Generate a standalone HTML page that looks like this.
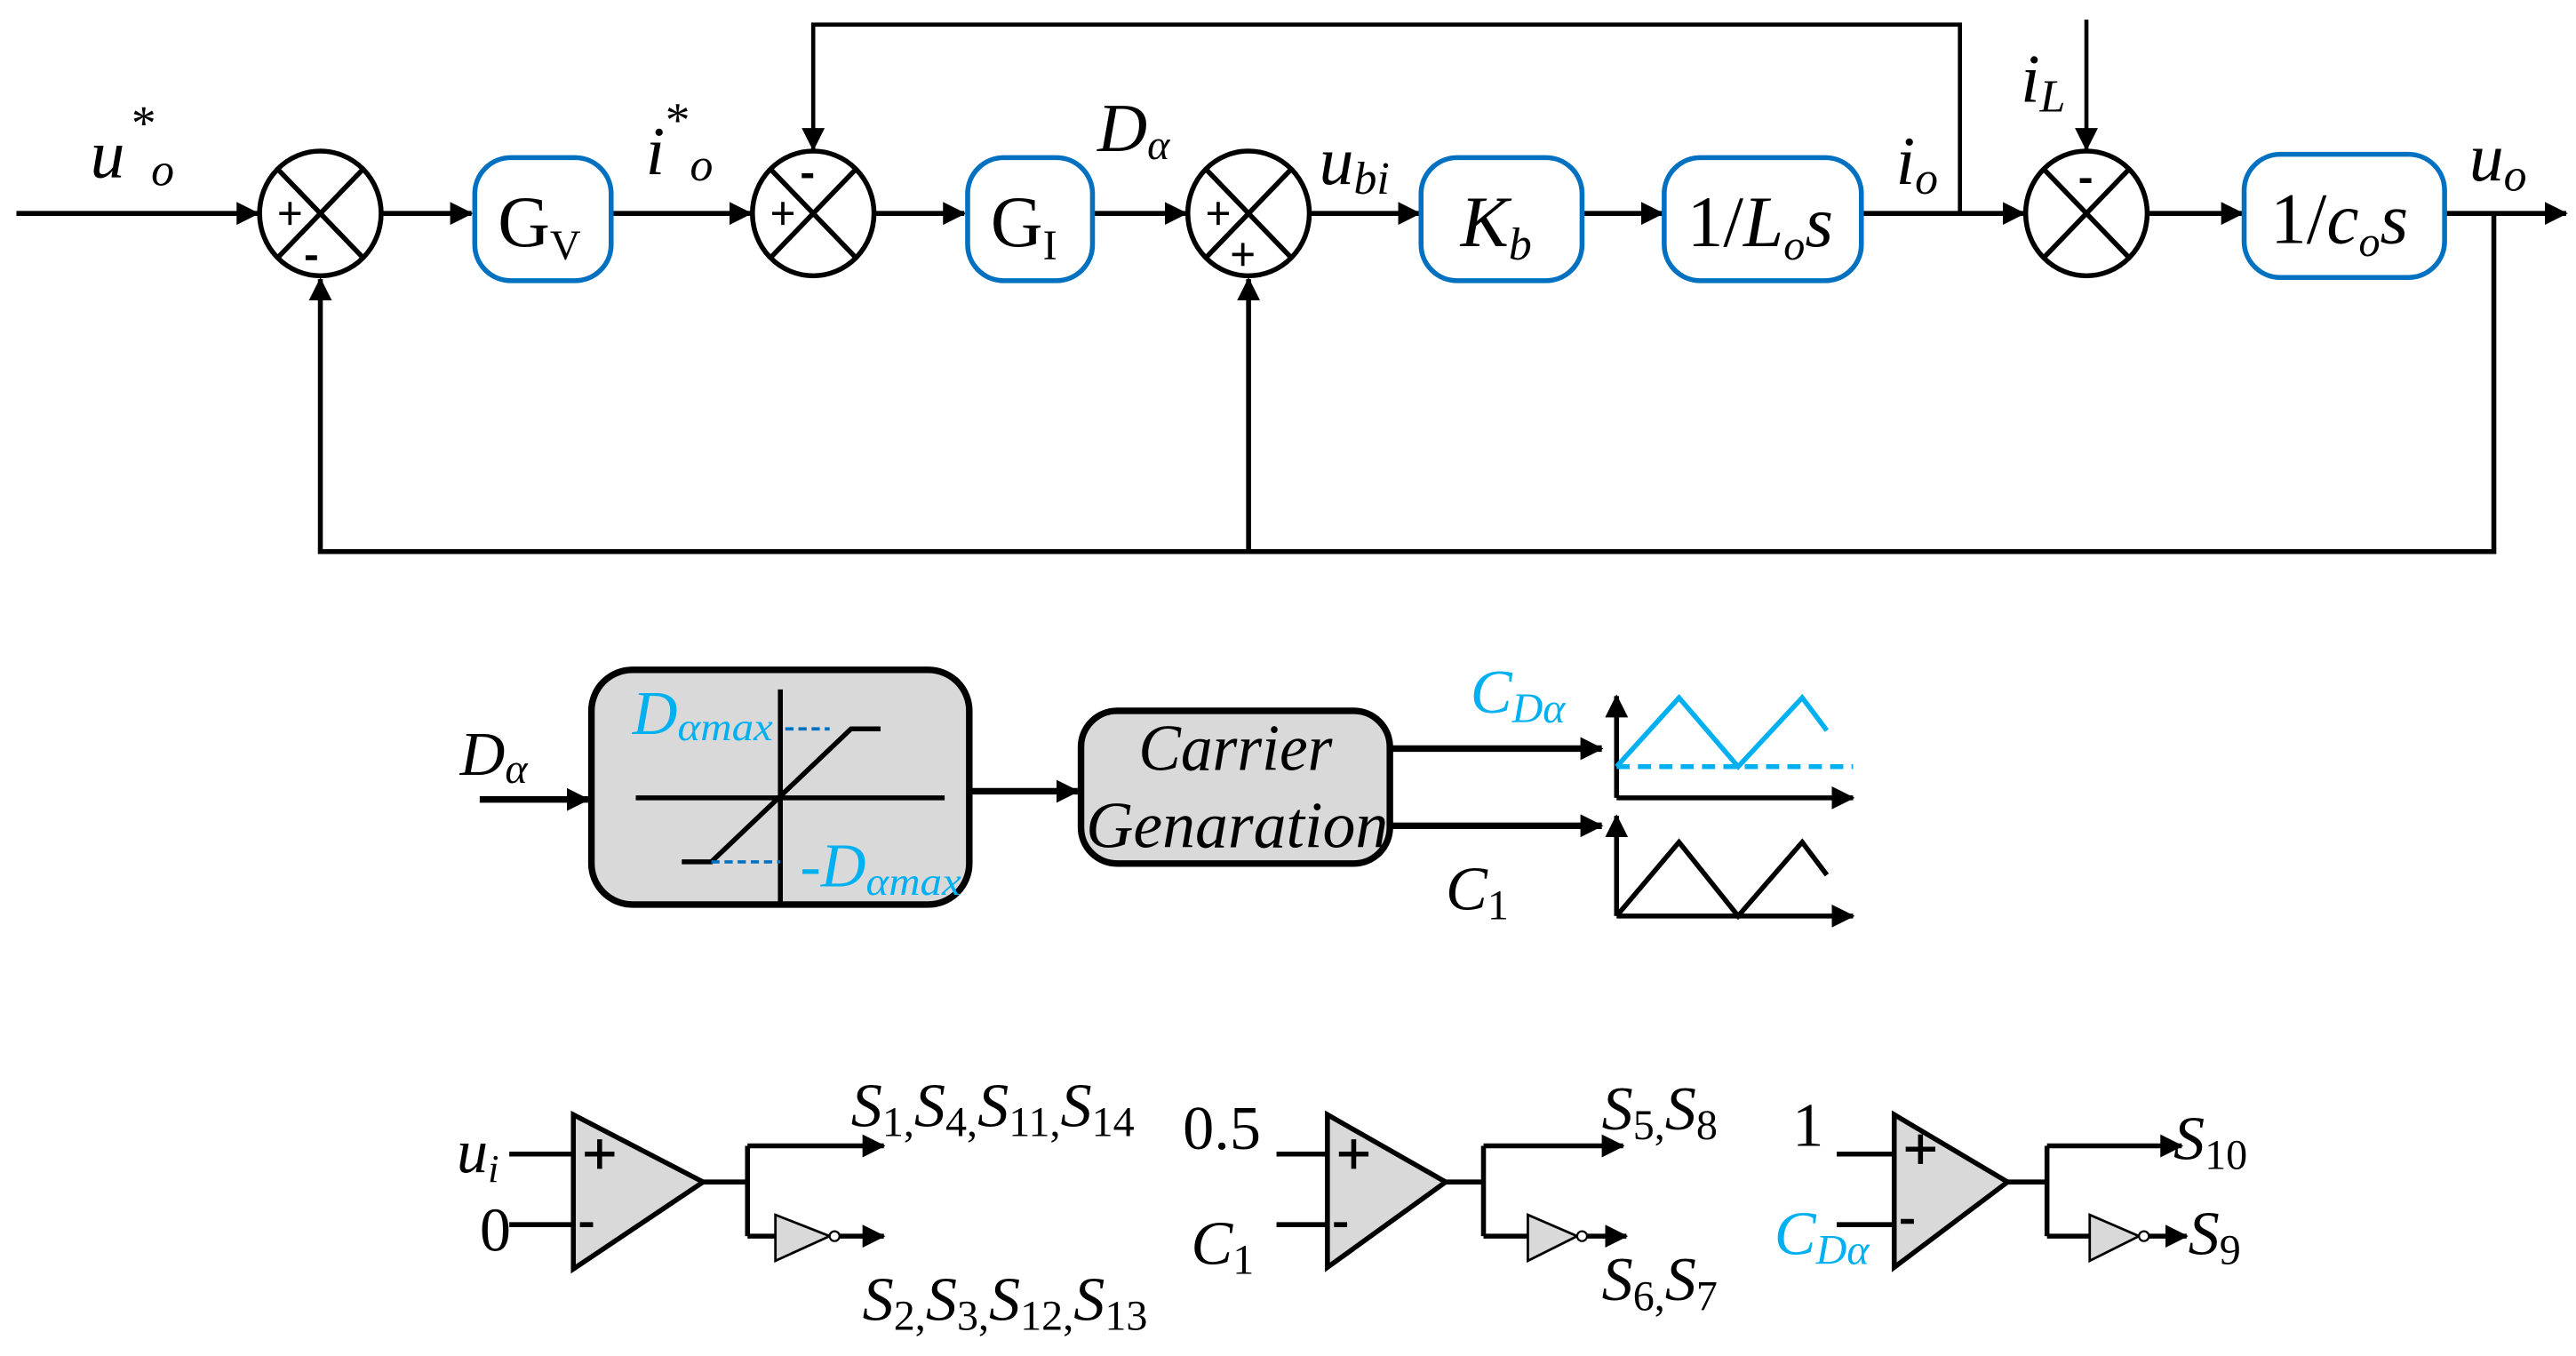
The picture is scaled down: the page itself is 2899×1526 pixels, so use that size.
<!DOCTYPE html>
<html><head><meta charset="utf-8"><style>
html,body{margin:0;padding:0;background:#fff;}
svg{display:block;}
svg text{font-family:"Liberation Serif","Times New Roman",serif;}
</style></head><body>
<svg width="2899" height="1526" viewBox="0 0 1568 826" preserveAspectRatio="none" xmlns="http://www.w3.org/2000/svg">
<defs>
<marker id="b" markerWidth="14" markerHeight="14" refX="13" refY="7" orient="auto" markerUnits="userSpaceOnUse"><path d="M0,0 L14,7 L0,14 Z" fill="#000"/></marker>
</defs>
<g stroke="#000" stroke-width="3" fill="none">
<line x1="10" y1="130" x2="157" y2="130" marker-end="url(#b)"/>
<line x1="232" y1="130" x2="287" y2="130" marker-end="url(#b)"/>
<line x1="372" y1="130" x2="457" y2="130" marker-end="url(#b)"/>
<line x1="532" y1="130" x2="587" y2="130" marker-end="url(#b)"/>
<line x1="665" y1="130" x2="722" y2="130" marker-end="url(#b)"/>
<line x1="797" y1="130" x2="864" y2="130" marker-end="url(#b)"/>
<line x1="963" y1="130" x2="1012" y2="130" marker-end="url(#b)"/>
<line x1="1133" y1="130" x2="1232" y2="130" marker-end="url(#b)"/>
<line x1="1307" y1="130" x2="1365" y2="130" marker-end="url(#b)"/>
<line x1="1488" y1="130" x2="1562" y2="130" marker-end="url(#b)"/>
<polyline points="1193,130 1193,15 495,15 495,91" stroke-width="2.5" marker-end="url(#b)"/>
<line x1="1270" y1="12" x2="1270" y2="91" stroke-width="2.5" marker-end="url(#b)"/>
<polyline points="1518,130 1518,336 195,336 195,170" marker-end="url(#b)"/>
<line x1="760" y1="336" x2="760" y2="170" marker-end="url(#b)"/>
<ellipse cx="195" cy="130" rx="37" ry="38" fill="#fff"/>
<ellipse cx="495" cy="130" rx="37" ry="38" fill="#fff"/>
<ellipse cx="760" cy="130" rx="37" ry="38" fill="#fff"/>
<ellipse cx="1270" cy="130" rx="37" ry="38" fill="#fff"/>
<path d="M169,103 L221,157 M221,103 L169,157"/>
<path d="M469,103 L521,157 M521,103 L469,157"/>
<path d="M734,103 L786,157 M786,103 L734,157"/>
<path d="M1244,103 L1296,157 M1296,103 L1244,157"/>
<g stroke="#0070c0" stroke-width="3" fill="#fff">
<rect x="289" y="96" width="83" height="75" rx="22"/>
<rect x="589" y="96" width="76" height="75" rx="22"/>
<rect x="865" y="96" width="98" height="75" rx="22"/>
<rect x="1013" y="96" width="120" height="75" rx="22"/>
<rect x="1366" y="94" width="122" height="75" rx="22"/>
</g>
<!-- signs -->
<g stroke-width="2">
<path d="M170,130 H183 M176.5,123 V137"/><path d="M186,157 H193" stroke-width="3"/>
<path d="M470,130 H483 M476.5,123 V137"/><path d="M488,107 H495" stroke-width="3"/>
<path d="M735,130 H748 M741.5,123 V137"/><path d="M750,155 H763 M756.5,148 V162"/>
<path d="M1266,110 H1273" stroke-width="3"/>
</g>
</g>
<g font-size="44" fill="#000">
<text x="303" y="150">G<tspan font-size="26" dy="8">V</tspan></text>
<text x="603" y="150">G<tspan font-size="26" dy="8">I</tspan></text>
<text x="889" y="150" font-style="italic">K<tspan font-size="28" dy="8">b</tspan></text>
<text x="1027" y="150">1/<tspan font-style="italic">L</tspan><tspan font-size="26" dy="8" font-style="italic">o</tspan><tspan dy="-8" font-style="italic">s</tspan></text>
<text x="1382" y="148">1/<tspan font-style="italic">c</tspan><tspan font-size="26" dy="8" font-style="italic">o</tspan><tspan dy="-8" font-style="italic">s</tspan></text>
</g>
<g font-style="italic" fill="#000" font-size="42">
<text x="55" y="108">u</text><text x="92" y="113" font-size="28">o</text><text x="80" y="85" font-size="30" font-style="normal">*</text>
<text x="393" y="106">i</text><text x="420" y="110" font-size="28">o</text><text x="405" y="83" font-size="30" font-style="normal">*</text>
<text x="668" y="92">D<tspan font-size="26" dy="5">α</tspan></text>
<text x="803" y="112">u<tspan font-size="28" dy="6">bi</tspan></text>
<text x="1154" y="112">i<tspan font-size="28" dy="6">o</tspan></text>
<text x="1230" y="62">i<tspan font-size="28" dy="6">L</tspan></text>
<text x="1503" y="110">u<tspan font-size="28" dy="6">o</tspan></text>
</g>
<!-- middle -->
<g stroke="#000" stroke-width="4">
<line x1="292" y1="487" x2="358" y2="487" marker-end="url(#b)"/>
<rect x="360" y="408" width="230" height="143" rx="25" fill="#d9d9d9"/>
<line x1="590" y1="482" x2="656" y2="482" marker-end="url(#b)"/>
<rect x="658" y="433" width="188" height="93" rx="22" fill="#d9d9d9"/>
<line x1="846" y1="456" x2="975" y2="456" marker-end="url(#b)"/>
<line x1="846" y1="503" x2="975" y2="503" marker-end="url(#b)"/>
</g>
<g stroke="#000" stroke-width="3" fill="none">
<line x1="387" y1="486" x2="575" y2="486"/>
<line x1="475" y1="420" x2="475" y2="550"/>
<polyline points="415,525 433,525 518,444 536,444"/>
<line x1="984" y1="486" x2="1128" y2="486" marker-end="url(#b)"/>
<line x1="984" y1="486" x2="984" y2="424" marker-end="url(#b)"/>
<line x1="984" y1="558" x2="1128" y2="558" marker-end="url(#b)"/>
<line x1="984" y1="558" x2="984" y2="497" marker-end="url(#b)"/>
<polyline points="984,558 1022,513 1058,558 1097,513 1112,533"/>
<polyline points="984,467 1022,425 1058,467 1097,425 1112,445" stroke="#00b0f0"/>
<line x1="984" y1="467" x2="1128" y2="467" stroke="#00b0f0" stroke-dasharray="8,5"/>
<line x1="478" y1="444" x2="505" y2="444" stroke="#0070c0" stroke-width="2" stroke-dasharray="5,3"/>
<line x1="433" y1="525" x2="475" y2="525" stroke="#0070c0" stroke-width="2" stroke-dasharray="5,3"/>
</g>
<g font-style="italic" font-size="38">
<text x="280" y="472" fill="#000">D<tspan font-size="26" dy="5">α</tspan></text>
<text x="385" y="447" fill="#00b0f0">D<tspan font-size="24" dy="4" textLength="58" lengthAdjust="spacingAndGlyphs">αmax</tspan></text>
<text x="487" y="540" fill="#00b0f0">-D<tspan font-size="24" dy="5" textLength="58" lengthAdjust="spacingAndGlyphs">αmax</tspan></text>
<text x="895" y="434" fill="#00b0f0">C<tspan font-size="26" dy="6">Dα</tspan></text>
<text x="880" y="554" fill="#000">C<tspan font-size="26" dy="6" font-style="normal">1</tspan></text>
<text x="752" y="469" text-anchor="middle" fill="#000" font-size="40" textLength="118" lengthAdjust="spacingAndGlyphs">Carrier</text>
<text x="753" y="516" text-anchor="middle" fill="#000" font-size="40" textLength="184" lengthAdjust="spacingAndGlyphs">Genaration</text>
</g>
<!-- comparators -->
<g stroke="#000" stroke-width="3" fill="none">
<polygon points="349,679 349,773 428,720" fill="#d9d9d9"/>
<line x1="310" y1="703" x2="349" y2="703"/><line x1="310" y1="746" x2="349" y2="746"/>
<polyline points="428,720 455,720"/><line x1="455" y1="698" x2="455" y2="753"/>
<line x1="455" y1="698" x2="538" y2="698" marker-end="url(#b)"/>
<line x1="455" y1="753" x2="472" y2="753"/>
<polygon points="472,740 472,768 505,753" fill="#d9d9d9" stroke-width="1.5"/>
<circle cx="508" cy="753" r="3" fill="#fff" stroke-width="1.2"/>
<line x1="511" y1="753" x2="538" y2="753" marker-end="url(#b)"/>

<polygon points="808,679 808,772 880,720" fill="#d9d9d9"/>
<line x1="777" y1="703" x2="808" y2="703"/><line x1="777" y1="746" x2="808" y2="746"/>
<polyline points="880,720 903,720"/><line x1="903" y1="698" x2="903" y2="753"/>
<line x1="903" y1="698" x2="988" y2="698" marker-end="url(#b)"/>
<line x1="903" y1="753" x2="930" y2="753"/>
<polygon points="930,740 930,768 960,753" fill="#d9d9d9" stroke-width="1.5"/>
<circle cx="963" cy="753" r="3" fill="#fff" stroke-width="1.2"/>
<line x1="966" y1="753" x2="990" y2="753" marker-end="url(#b)"/>

<polygon points="1153,679 1153,772 1222,720" fill="#d9d9d9"/>
<line x1="1118" y1="703" x2="1153" y2="703"/><line x1="1118" y1="746" x2="1153" y2="746"/>
<polyline points="1222,720 1246,720"/><line x1="1246" y1="698" x2="1246" y2="753"/>
<line x1="1246" y1="698" x2="1328" y2="698" marker-end="url(#b)"/>
<line x1="1246" y1="753" x2="1272" y2="753"/>
<polygon points="1272,740 1272,768 1302,753" fill="#d9d9d9" stroke-width="1.5"/>
<circle cx="1305" cy="753" r="3" fill="#fff" stroke-width="1.2"/>
<line x1="1308" y1="753" x2="1331" y2="753" marker-end="url(#b)"/>
<g stroke-width="3">
<path d="M356,703 H374 M365,694 V712 M353,746 H361"/>
<path d="M815,703 H833 M824,694 V712 M812,746 H820"/>
<path d="M1160,700 H1178 M1169,691 V709 M1157,744 H1165"/>
</g>
</g>
<g font-size="38" fill="#000">
<text x="278" y="714" font-style="italic">u<tspan font-size="24" dy="6">i</tspan></text>
<text x="292" y="762">0</text>
<text x="518" y="686" font-style="italic">S<tspan font-size="26" dy="6" font-style="normal">1,</tspan><tspan dy="-6">S</tspan><tspan font-size="26" dy="6" font-style="normal">4,</tspan><tspan dy="-6">S</tspan><tspan font-size="26" dy="6" font-style="normal">11,</tspan><tspan dy="-6">S</tspan><tspan font-size="26" dy="6" font-style="normal">14</tspan></text>
<text x="525" y="804" font-style="italic">S<tspan font-size="26" dy="6" font-style="normal">2,</tspan><tspan dy="-6">S</tspan><tspan font-size="26" dy="6" font-style="normal">3,</tspan><tspan dy="-6">S</tspan><tspan font-size="26" dy="6" font-style="normal">12,</tspan><tspan dy="-6">S</tspan><tspan font-size="26" dy="6" font-style="normal">13</tspan></text>
<text x="720" y="700">0.5</text>
<text x="725" y="770" font-style="italic">C<tspan font-size="26" dy="6" font-style="normal">1</tspan></text>
<text x="975" y="688" font-style="italic">S<tspan font-size="26" dy="6" font-style="normal">5,</tspan><tspan dy="-6">S</tspan><tspan font-size="26" dy="6" font-style="normal">8</tspan></text>
<text x="975" y="792" font-style="italic">S<tspan font-size="26" dy="6" font-style="normal">6,</tspan><tspan dy="-6">S</tspan><tspan font-size="26" dy="6" font-style="normal">7</tspan></text>
<text x="1091" y="698">1</text>
<text x="1080" y="764" font-style="italic" fill="#00b0f0">C<tspan font-size="26" dy="6">Dα</tspan></text>
<text x="1323" y="706" font-style="italic">S<tspan font-size="26" dy="6" font-style="normal">10</tspan></text>
<text x="1332" y="764" font-style="italic">S<tspan font-size="26" dy="6" font-style="normal">9</tspan></text>
</g>
</svg>
</body></html>
